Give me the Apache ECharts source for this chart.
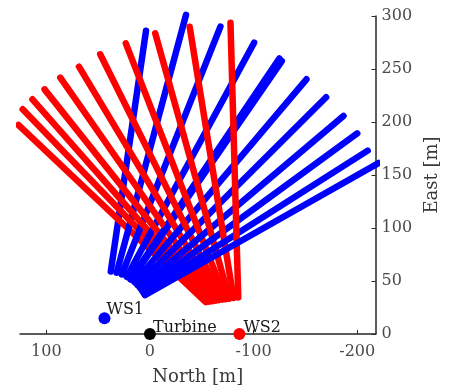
<!DOCTYPE html>
<html>
<head>
<meta charset="utf-8">
<script src="https://cdn.jsdelivr.net/npm/echarts@6/dist/echarts.min.js"></script>
<style>
  html, body { margin: 0; padding: 0; background: #fff; }
  #chart { width: 449px; height: 392px; }
</style>
</head>
<body>
<div id="chart"></div>
<script>
// Lidar scan lines, [North, East] in metres: near-range start and far end of each beam.
const ws1ScanStart = [
  [37.8, 58.9], [32.1, 57.8], [27.2, 56.2], [22.4, 53.9], [18.8, 51.7], [18.2, 51.3],
  [14.8, 48.7], [12.0, 46.1], [9.6, 43.4], [7.7, 40.9], [6.1, 38.6], [4.9, 36.6]
];
const ws1ScanEnd = [
  [3.8, 286.0], [-34.8, 301.0], [-68.0, 290.0], [-100.5, 274.8], [-124.8, 259.9], [-127.2, 257.5],
  [-151.0, 240.3], [-170.0, 223.3], [-186.7, 205.7], [-200.0, 189.3], [-210.1, 173.0], [-220.6, 161.3]
];
const ws2ScanStart = [
  [-53.6, 30.2], [-56.1, 30.6], [-58.5, 30.8], [-60.9, 31.1], [-63.7, 31.6], [-66.6, 32.0],
  [-69.8, 32.4], [-73.1, 32.8], [-76.6, 33.4], [-80.6, 34.0], [-85.2, 34.5]
];
const ws2ScanEnd = [
  [127.0, 197.2], [122.8, 212.0], [113.4, 221.4], [101.7, 230.8], [86.5, 241.8], [68.5, 252.2],
  [48.0, 263.9], [23.3, 274.2], [-5.1, 283.7], [-38.3, 289.9], [-77.7, 293.7]
];

// Sites
const siteNames = ['WS1', 'Turbine', 'WS2'];
const siteNorth = [43.9, 0, -86.3];
const siteEast = [14.8, 0, 0];
const siteColors = ['#0000ff', '#000000', '#ff0000'];

// Axis ticks
const northTicks = [100, 0, -100, -200];
const eastTicks = [0, 50, 100, 150, 200, 250, 300];

const FONT = 'DejaVu Serif';
const AXIS_COLOR = '#262626';

function beam(start, end, color, idx) {
  return {
    type: 'line',
    data: [start, end],
    showSymbol: false,
    symbol: 'none',
    clip: false,
    silent: true,
    animation: false,
    lineStyle: { color: color, width: 6.5, cap: 'round', opacity: 1 },
    z: 2 + idx * 0.001
  };
}

const series = [];
const n = Math.max(ws1ScanStart.length, ws2ScanStart.length);
let k = 0;
for (let i = 0; i < n; i++) {
  if (i < ws1ScanStart.length) series.push(beam(ws1ScanStart[i], ws1ScanEnd[i], '#0000ff', k++));
  if (i < ws2ScanStart.length) series.push(beam(ws2ScanStart[i], ws2ScanEnd[i], '#ff0000', k++));
}

const labelOffsets = [[-4, -8], [-3, -6], [-2, -6]];
series.push({
  type: 'scatter',
  z: 5,
  animation: false,
  symbolSize: 12,
  data: siteNames.map((name, i) => ({
    name: name,
    value: [siteNorth[i], siteEast[i]],
    itemStyle: { color: siteColors[i], opacity: 1 },
    label: {
      show: true,
      position: 'right',
      distance: 0,
      offset: labelOffsets[i],
      formatter: name,
      color: '#1a1a1a',
      fontFamily: FONT,
      fontSize: 16
    }
  }))
});

const chart = echarts.init(document.getElementById('chart'), null, { renderer: 'canvas' });
chart.setOption({
  animation: false,
  backgroundColor: '#ffffff',
  grid: { left: 20, right: 67, top: 16, bottom: 58, containLabel: false },
  xAxis: {
    type: 'value',
    inverse: true,
    min: -217.7,
    max: 125.4,
    name: 'North [m]',
    nameLocation: 'middle',
    nameGap: 34,
    nameTextStyle: { fontFamily: FONT, fontSize: 18, color: '#3a3a3a' },
    axisLine: { show: true, onZero: false, lineStyle: { color: AXIS_COLOR, width: 1.5 } },
    axisTick: { show: true, inside: true, length: 4, customValues: northTicks, lineStyle: { color: AXIS_COLOR } },
    axisLabel: { customValues: northTicks, margin: 10, fontFamily: FONT, fontSize: 16, color: '#4a4a4a' },
    splitLine: { show: false }
  },
  yAxis: {
    type: 'value',
    position: 'right',
    min: 0,
    max: 300,
    interval: 50,
    name: 'East [m]',
    nameLocation: 'middle',
    nameGap: 42,
    nameRotate: 90,
    nameTextStyle: { fontFamily: FONT, fontSize: 18, color: '#3a3a3a' },
    axisLine: { show: true, onZero: false, lineStyle: { color: AXIS_COLOR, width: 1.5 } },
    axisTick: { show: true, inside: true, length: 4, customValues: eastTicks, lineStyle: { color: AXIS_COLOR } },
    axisLabel: { customValues: eastTicks, margin: 6, fontFamily: FONT, fontSize: 16, color: '#4a4a4a' },
    splitLine: { show: false }
  },
  series: series
});
</script>
</body>
</html>
